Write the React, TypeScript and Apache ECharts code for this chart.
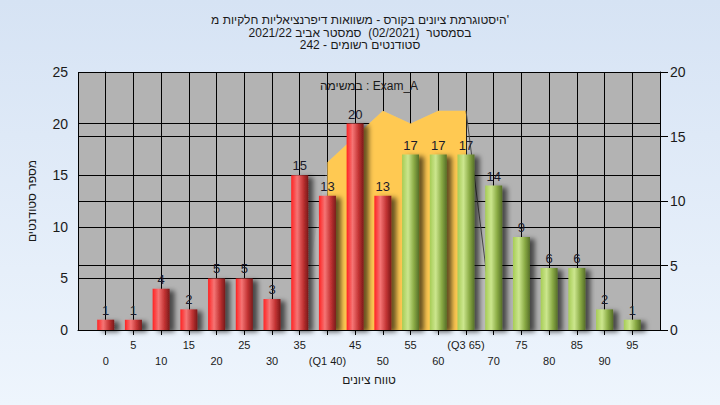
import React, { useEffect, useRef } from "react";
import * as echarts from "echarts";

const grades = [0, 5, 10, 15, 20, 25, 30, 35, 40, 45, 50, 55, 60, 65, 70, 75, 80, 85, 90, 95];
const counts = [1, 1, 4, 2, 5, 5, 3, 15, 13, 20, 13, 17, 17, 17, 14, 9, 6, 6, 2, 1];
const passFrom = 55;

// area between quartiles (right axis)
const quartileGrades = [40, 45, 50, 55, 60, 65];
const quartileValues = [13, 15, 17, 16, 17, 17];
// 3D side of the area (right axis)
const sideGrades = [35, 40, 45, 50, 55, 60, 65, 70];
const sideValues = [0, 13, 15, 17, 16, 17, 17, 0];
const edgeGrades = [65, 70];
const edgeValues = [17, 0];

const leftTicks = [0, 5, 10, 15, 20, 25];
const rightTicks = [0, 5, 10, 15, 20];
const specialLabels: Record<number, string> = { 40: "(Q1 40)", 65: "(Q3 65)" };

const titleLines = [
  "היסטוגרמת ציונים בקורס - משוואות דיפרנציאליות חלקיות מ'",
  "בסמסטר  (02/2021)  סמסטר אביב 2021/22",
  "סטודנטים רשומים - 242",
];
const legendText = "במשימה : Exam_A";
const xName = "טווח ציונים";
const yName = "מספר סטודנטים";

const FONT = '"Liberation Sans", Arial, "DejaVu Sans", sans-serif';

export default function App() {
  const ref = useRef<HTMLDivElement>(null);
  useEffect(() => {
    document.body.style.margin = "0";
    const chart = echarts.init(ref.current!, null, { renderer: "svg" });
    const red = new echarts.graphic.LinearGradient(0, 0, 1, 0, [
      { offset: 0, color: "#ff2222" },
      { offset: 0.35, color: "#f57575" },
      { offset: 0.7, color: "#c23333" },
      { offset: 1, color: "#7a1a1a" },
    ]);
    const green = new echarts.graphic.LinearGradient(0, 0, 1, 0, [
      { offset: 0, color: "#a6cc55" },
      { offset: 0.35, color: "#cce68e" },
      { offset: 0.7, color: "#8aab45" },
      { offset: 1, color: "#566f28" },
    ]);
    const barData = grades.map((g, i) => ({
      value: [g, counts[i]],
      itemStyle: { color: g >= passFrom ? green : red },
    }));
    const option: any = {
      animation: false,
      backgroundColor: new echarts.graphic.LinearGradient(0, 0, 0, 1, [
        { offset: 0, color: "#d6e3f4" },
        { offset: 1, color: "#eef5fd" },
      ]),
      textStyle: { fontFamily: FONT },
      title: {
        text: titleLines.join("\n"),
        left: "center",
        top: 9,
        textStyle: { fontSize: 12, fontWeight: "normal", color: "#1a1a1a", lineHeight: 12.5, fontFamily: FONT },
      },
      graphic: [
        {
          type: "text",
          x: 369,
          y: 86,
          style: {
            text: legendText,
            fill: "#1a1a1a",
            font: `12px ${FONT}`,
            textAlign: "center",
            textVerticalAlign: "middle",
          },
          z: 100,
        },
      ],
      grid: { left: 78, right: 60, top: 72, bottom: 75, show: true, backgroundColor: "#b3b3b3", borderWidth: 0 },
      xAxis: {
        type: "value",
        min: -5,
        max: 100,
        interval: 5,
        name: xName,
        nameLocation: "middle",
        nameGap: 44,
        nameTextStyle: { fontSize: 12, color: "#1a1a1a", fontFamily: FONT },
        axisLine: { show: true, lineStyle: { color: "#000", width: 1 } },
        axisTick: { show: true, length: 5, lineStyle: { color: "#000" } },
        splitLine: { show: true, lineStyle: { color: "#000", width: 1 } },
        axisLabel: {
          margin: 7,
          fontSize: 11,
          lineHeight: 16,
          color: "#1a1a1a",
          fontFamily: FONT,
          showMinLabel: false,
          showMaxLabel: false,
          formatter: (v: number) => {
            if (v < 0 || v >= 100) return "";
            const lbl = specialLabels[v] ?? String(v);
            return v % 10 === 0 ? "\n" + lbl : lbl;
          },
        },
      },
      yAxis: [
        {
          type: "value",
          min: leftTicks[0],
          max: leftTicks[leftTicks.length - 1],
          interval: 5,
          name: yName,
          nameLocation: "middle",
          nameGap: 40,
          nameTextStyle: { fontSize: 12, color: "#1a1a1a", fontFamily: FONT },
          axisLine: { show: true, lineStyle: { color: "#000" } },
          axisTick: { show: true, length: 7, lineStyle: { color: "#000" } },
          splitLine: { show: true, lineStyle: { color: "#000", width: 1 } },
          axisLabel: { margin: 10, fontSize: 14, color: "#1a1a1a", fontFamily: FONT },
        },
        {
          type: "value",
          min: rightTicks[0],
          max: rightTicks[rightTicks.length - 1],
          interval: 5,
          position: "right",
          axisLine: { show: true, lineStyle: { color: "#000" } },
          axisTick: { show: true, length: 8, lineStyle: { color: "#000" } },
          splitLine: { show: true, lineStyle: { color: "#000", width: 1 } },
          axisLabel: { margin: 10, fontSize: 14, color: "#1a1a1a", fontFamily: FONT },
        },
      ],
      series: [
        {
          type: "line",
          yAxisIndex: 1,
          data: sideGrades.map((g, i) => [g, sideValues[i]]),
          symbol: "none",
          lineStyle: { width: 0 },
          areaStyle: { color: "rgba(255,255,255,0.13)", opacity: 1 },
          z: 1,
          silent: true,
        },
        {
          type: "line",
          yAxisIndex: 1,
          data: quartileGrades.map((g, i) => [g, quartileValues[i]]),
          symbol: "none",
          lineStyle: { width: 0 },
          areaStyle: { color: "#ffc952", opacity: 1 },
          z: 2,
          silent: true,
        },
        {
          type: "line",
          yAxisIndex: 1,
          data: edgeGrades.map((g, i) => [g, edgeValues[i]]),
          symbol: "none",
          lineStyle: { width: 1, color: "#4a4a4a" },
          z: 3,
          silent: true,
        },
        {
          type: "bar",
          yAxisIndex: 0,
          barWidth: 17,
          data: barData,
          z: 5,
          itemStyle: {
            shadowColor: "rgba(0,0,0,0.6)",
            shadowBlur: 5,
            shadowOffsetX: 5,
            shadowOffsetY: 2,
          },
          label: {
            show: true,
            position: "top",
            distance: 3,
            fontSize: 13,
            color: "#1a1a2a",
            fontFamily: FONT,
          },
        },
      ],
    };
    chart.setOption(option);
    return () => chart.dispose();
  }, []);
  return <div ref={ref} style={{ width: 720, height: 405 }} />;
}
